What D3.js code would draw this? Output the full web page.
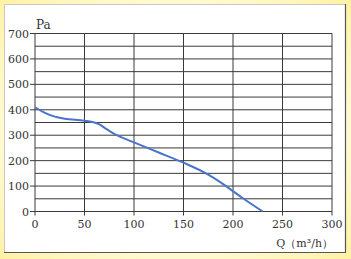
<!doctype html>
<html>
    <head>
        <script src="https://cdn.jsdelivr.net/npm/d3@7/dist/d3.min.js"></script>
        <style>
            html, body {
                margin: 0;
                padding: 0;
                background: #fff3a3;
            }
            #viz {
                position: absolute;
                top: 0px;
                left: 0px;
                width: 351px;
                height: 259px;
            }
        </style>
    </head>
    <body>
        <div id="viz"></div>
        <script>
            // curve: flow Q (m3/h) vs pressure (Pa)
            var flow     = [0, 10, 20, 30, 50, 60, 65, 70, 80, 100, 125, 150, 175, 193, 210, 230];
            var pressure = [410, 388, 373, 365, 357, 350, 343, 330, 305, 272, 232, 192, 145, 100, 52, 0];

            var xTicks = [0, 50, 100, 150, 200, 250, 300];
            var yTicks = [0, 100, 200, 300, 400, 500, 600, 700];
            var xGrid = [0, 50, 100, 150, 200, 250, 300];
            var yGrid = [0, 50, 100, 150, 200, 250, 300, 350, 400, 450, 500, 550, 600, 650, 700];

            var w = 351, h = 259;
            var font = "'DejaVu Serif', 'Liberation Serif', serif";

            var svg = d3.select("#viz").append("svg")
                .attr("width", w)
                .attr("height", h);

            // soft yellow glow round the white panel
            var defs = svg.append("defs");
            var grad = defs.append("radialGradient").attr("id", "glow")
                .attr("cx", "50%").attr("cy", "50%").attr("r", "75%");
            grad.append("stop").attr("offset", "60%").attr("stop-color", "#fffbd8");
            grad.append("stop").attr("offset", "100%").attr("stop-color", "#fff09a");
            svg.append("rect").attr("width", w).attr("height", h).attr("fill", "url(#glow)");

            // panel
            svg.append("rect")
                .attr("x", 4).attr("y", 4)
                .attr("width", 342).attr("height", 248)
                .attr("fill", "#ffffff");
            svg.append("path").attr("d", "M4.5,252V4.5H345.5")
                .attr("fill", "none").attr("stroke", "#c8c8c8");
            svg.append("path").attr("d", "M345.5,4V252.5H4")
                .attr("fill", "none").attr("stroke", "#555555").attr("stroke-width", 1.2);

            var x = d3.scaleLinear().domain([0, 300]).range([35, 332]);
            var y = d3.scaleLinear().domain([0, 700]).range([211.5, 33.5]);

            var g = svg.append("g");

            g.selectAll("line.hg")
                .data(yGrid)
                .enter()
                .append("line")
                    .attr("class", "hg")
                    .attr("x1", x(0)).attr("x2", x(300))
                    .attr("y1", function (d) { return y(d); })
                    .attr("y2", function (d) { return y(d); })
                    .attr("stroke", "#3a3a3a")
                    .attr("stroke-width", 1);

            g.selectAll("line.vg")
                .data(xGrid)
                .enter()
                .append("line")
                    .attr("class", "vg")
                    .attr("x1", function (d) { return x(d); })
                    .attr("x2", function (d) { return x(d); })
                    .attr("y1", y(700)).attr("y2", y(0))
                    .attr("stroke", "#3a3a3a")
                    .attr("stroke-width", 1);

            // y ticks and labels
            g.selectAll("line.yt")
                .data(yTicks)
                .enter()
                .append("line")
                    .attr("class", "yt")
                    .attr("x1", x(0) - 5).attr("x2", x(0))
                    .attr("y1", function (d) { return y(d); })
                    .attr("y2", function (d) { return y(d); })
                    .attr("stroke", "#3a3a3a");

            g.selectAll("text.yl")
                .data(yTicks)
                .enter()
                .append("text")
                    .attr("class", "yl")
                    .attr("x", 29)
                    .attr("y", function (d) { return y(d) + 4; })
                    .attr("text-anchor", "end")
                    .attr("font-family", font)
                    .attr("font-size", "11px")
                    .attr("fill", "#333333")
                    .text(function (d) { return d; });

            // x ticks and labels
            g.selectAll("line.xt")
                .data(xTicks)
                .enter()
                .append("line")
                    .attr("class", "xt")
                    .attr("x1", function (d) { return x(d); })
                    .attr("x2", function (d) { return x(d); })
                    .attr("y1", y(0)).attr("y2", y(0) + 4)
                    .attr("stroke", "#3a3a3a");

            g.selectAll("text.xl")
                .data(xTicks)
                .enter()
                .append("text")
                    .attr("class", "xl")
                    .attr("x", function (d) { return x(d); })
                    .attr("y", 228)
                    .attr("text-anchor", "middle")
                    .attr("font-family", font)
                    .attr("font-size", "11px")
                    .attr("fill", "#333333")
                    .text(function (d) { return d; });

            // axis titles
            svg.append("text")
                .attr("x", 36).attr("y", 29)
                .attr("font-family", font)
                .attr("font-size", "12px")
                .attr("fill", "#333333")
                .text("Pa");

            svg.append("text")
                .attr("x", 333).attr("y", 247)
                .attr("text-anchor", "end")
                .attr("font-family", font)
                .attr("font-size", "11px")
                .attr("fill", "#333333")
                .text("Q（m³/h）");

            // curve
            var pts = flow.map(function (q, i) { return [q, pressure[i]]; });
            var line = d3.line()
                .x(function (d) { return x(d[0]); })
                .y(function (d) { return y(d[1]); })
                .curve(d3.curveMonotoneX);

            g.append("path")
                .datum(pts)
                .attr("d", line)
                .attr("fill", "none")
                .attr("stroke", "#4a74c9")
                .attr("stroke-width", 2);
        </script>
    </body>
</html>
